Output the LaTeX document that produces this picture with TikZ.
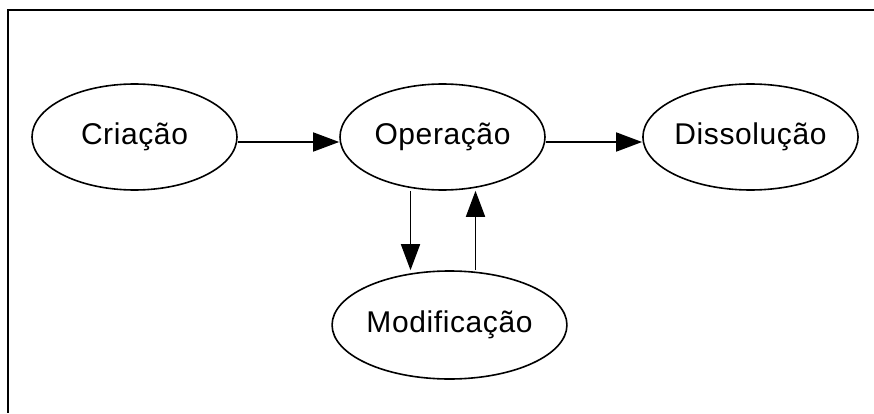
\documentclass[tikz,border=0pt]{standalone}
\usepackage{fontspec}
\newfontfamily\stagefont[LetterSpace=2]{Liberation Sans}
\usetikzlibrary{shapes.geometric, arrows.meta}
\tikzset{
  ->,
  >={Triangle[length=26pt, width=19pt]},
  x=1pt, y=1pt,
  node distance=308pt,
  stage/.style={ellipse, draw, line width=1.6pt, inner sep=0pt,
    minimum width=205pt, minimum height=106pt,
    font=\stagefont\fontsize{30}{36}\selectfont},
  link/.style={line width=1.7pt},
}

\begin{document}
\begin{tikzpicture}
		\useasboundingbox (0,0) rectangle (874,413);
		% frame
		\draw[-, line width=2.5pt] (874,403) -- (8,403) -- (8,0);

		% stages
		\node[stage] (crt) at (134.5,276) {Criação};
		\node[stage, right of=crt] (op) {Operação};
		\node[stage, right of=op] (dis) {Dissolução};
		\node[stage, below of=op, node distance=188pt, xshift=7pt,
		  minimum width=191pt, minimum height=108pt] (mod) {Modificação};

		% arrows
		\draw[link] ([yshift=-5pt]crt.east) -- ([yshift=-5pt]op.west);
		\draw[link] ([yshift=-5pt]op.east) -- ([yshift=-5pt]dis.west);
		\draw[link] ([xshift=-32pt]op.south) -- ([xshift=-32pt]op.south |- mod.north);
		\draw[link] ([xshift=33pt]op.south |- mod.north) -- ([xshift=33pt]op.south);
	\end{tikzpicture}
\end{document}
